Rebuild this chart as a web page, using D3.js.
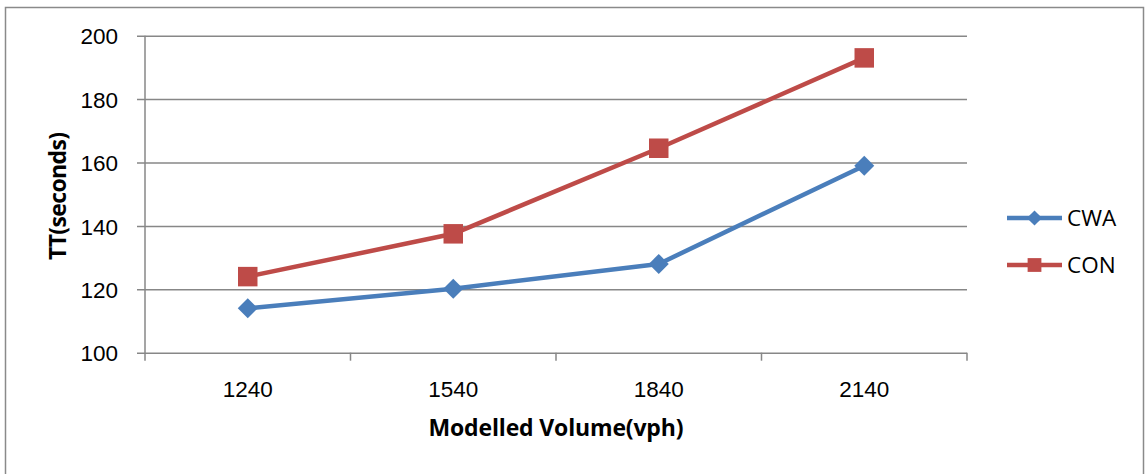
<!DOCTYPE html>
<html>
<head>
<meta charset="utf-8">
<script src="https://cdn.jsdelivr.net/npm/d3@7"></script>
<style>
  body { margin: 0; background: #fff; }
  svg { display: block; font-family: "Open Sans", sans-serif; }
</style>
</head>
<body>
<div id="chart"></div>
<script>
// chart data
const volumes = ['1240', '1540', '1840', '2140'];
const cwaValues = [114.0, 120.2, 128.0, 159.0];
const conValues = [124.0, 137.5, 164.5, 193.0];
const yTicks = [100, 120, 140, 160, 180, 200];
const seriesNames = ['CWA', 'CON'];

const width = 1147;
const height = 474;
const plot = { left: 145, right: 967, top: 35.7, bottom: 352.7 };

const blue = '#4A7EBB';
const red = '#BE4B48';
const gridColor = '#878787';

const svg = d3.select('#chart')
  .append('svg')
  .attr('width', width)
  .attr('height', height);

// outer chart border
svg.append('rect')
  .attr('x', 5.5)
  .attr('y', 7.5)
  .attr('width', 1138)
  .attr('height', 500)
  .style('fill', 'none')
  .style('stroke', '#8a8a8a')
  .style('stroke-width', 1.5);

const xScale = d3.scaleBand()
  .domain(volumes)
  .range([plot.left, plot.right])
  .padding(0);

const yScale = d3.scaleLinear()
  .domain([100, 200])
  .range([plot.bottom, plot.top]);

// y grid + tick stubs + labels
const yAxis = svg.append('g')
  .attr('class', 'y-axis')
  .attr('transform', `translate(${plot.left - 8}, 0)`)
  .call(d3.axisLeft(yScale)
    .tickValues(yTicks)
    .tickSize(-(plot.right - plot.left + 8))
    .tickPadding(19));
yAxis.select('.domain').remove();
yAxis.selectAll('line')
  .style('stroke', gridColor)
  .style('stroke-width', 1.5);
yAxis.selectAll('text')
  .attr('dy', '0.36em')
  .style('font-size', '22.5px')
  .style('fill', '#000');

// vertical axis line
svg.append('line')
  .attr('x1', plot.left).attr('x2', plot.left)
  .attr('y1', plot.top).attr('y2', plot.bottom + 8)
  .style('stroke', gridColor)
  .style('stroke-width', 1.5);

// x axis labels (centered in bands)
const xAxis = svg.append('g')
  .attr('class', 'x-axis')
  .attr('transform', `translate(0, ${plot.bottom})`)
  .call(d3.axisBottom(xScale).tickSize(0));
xAxis.select('.domain').remove();
xAxis.selectAll('text')
  .attr('y', 44)
  .attr('dy', 0)
  .style('font-size', '22.5px')
  .style('fill', '#000');

// x tick marks at band boundaries
const boundaries = volumes.map(v => xScale(v)).concat([xScale.range()[1]]);
svg.append('g')
  .selectAll('line')
  .data(boundaries.slice(1))
  .join('line')
  .attr('x1', d => d).attr('x2', d => d)
  .attr('y1', plot.bottom).attr('y2', plot.bottom + 8)
  .style('stroke', gridColor)
  .style('stroke-width', 1.5);

// axis titles
svg.append('text')
  .attr('x', (plot.left + plot.right) / 2)
  .attr('y', 436)
  .attr('text-anchor', 'middle')
  .style('font-size', '23px')
  .style('font-weight', 'bold')
  .attr('textLength', 255)
  .text('Modelled Volume(vph)');

svg.append('text')
  .attr('transform', 'translate(66, 196) rotate(-90)')
  .attr('text-anchor', 'middle')
  .style('font-size', '23px')
  .style('font-weight', 'bold')
  .attr('textLength', 128)
  .text('TT(seconds)');

// lines
const line = d3.line()
  .x(d => xScale(d[0]) + xScale.bandwidth() / 2)
  .y(d => yScale(d[1]));

const series = [
  { name: seriesNames[0], values: cwaValues, color: blue, marker: d3.symbolSquare, size: 200, rotate: 45 },
  { name: seriesNames[1], values: conValues, color: red, marker: d3.symbolSquare, size: 380, rotate: 0 }
];

series.forEach(s => {
  const pts = volumes.map((v, i) => [v, s.values[i]]);
  svg.append('path')
    .datum(pts)
    .attr('d', line)
    .style('fill', 'none')
    .style('stroke', s.color)
    .style('stroke-width', 4.5)
    .style('stroke-linejoin', 'round');

  svg.append('g')
    .selectAll('path')
    .data(pts)
    .join('path')
    .attr('d', d3.symbol().type(s.marker).size(s.size))
    .attr('transform', d => `translate(${xScale(d[0]) + xScale.bandwidth() / 2}, ${yScale(d[1])}) rotate(${s.rotate})`)
    .style('fill', s.color);
});

// legend
const legend = svg.append('g').attr('class', 'legend');
series.forEach((s, i) => {
  const ly = 218 + i * 47;
  legend.append('line')
    .attr('x1', 1007).attr('x2', 1062)
    .attr('y1', ly).attr('y2', ly)
    .style('stroke', s.color)
    .style('stroke-width', 4.5);
  legend.append('path')
    .attr('d', d3.symbol().type(s.marker).size(s.rotate ? 115 : 190))
    .attr('transform', `translate(1034.5, ${ly}) rotate(${s.rotate})`)
    .style('fill', s.color);
  legend.append('text')
    .attr('x', 1067)
    .attr('y', ly + 8)
    .style('font-size', '22.5px')
    .text(s.name);
});
</script>
</body>
</html>
